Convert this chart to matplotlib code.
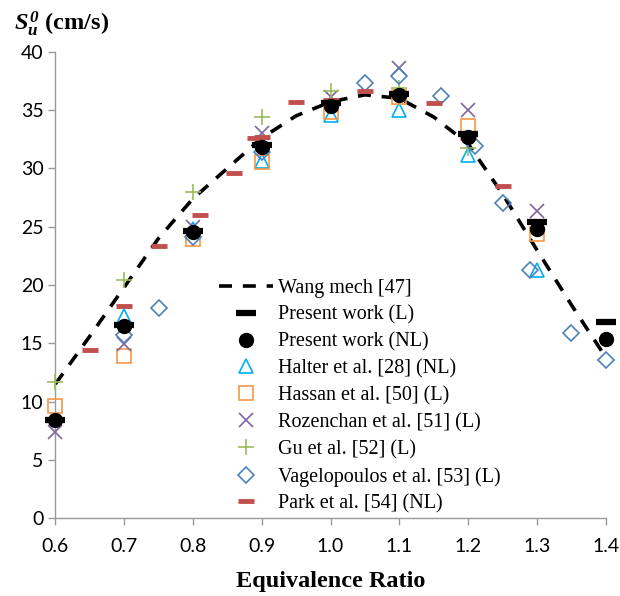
import numpy as np
import matplotlib
matplotlib.use("Agg")
import matplotlib.pyplot as plt

# ---- data -----------------------------------------------------------------
wang_phi = [0.60, 0.65, 0.70, 0.75, 0.80, 0.85, 0.90, 0.95, 1.00, 1.05,
            1.10, 1.15, 1.20, 1.25, 1.30, 1.35, 1.40]
wang_su = [11.5, 15.6, 19.8, 24.0, 27.4, 30.0, 32.6, 34.5, 35.7, 36.3,
           36.0, 34.4, 32.1, 27.8, 23.0, 18.3, 13.8]

pw_phi = [0.6, 0.7, 0.8, 0.9, 1.0, 1.1, 1.2, 1.3, 1.4]
pw_l = [8.4, 16.6, 24.6, 32.0, 35.6, 36.4, 32.9, 25.4, 16.8]
pw_nl = [8.4, 16.5, 24.5, 31.8, 35.3, 36.3, 32.7, 24.8, 15.4]

halter_phi = [0.7, 0.8, 0.9, 1.0, 1.1, 1.2, 1.3]
halter_su = [17.3, 24.8, 30.6, 34.6, 35.0, 31.1, 21.3]

hassan_phi = [0.6, 0.7, 0.8, 0.9, 1.0, 1.1, 1.2, 1.3]
hassan_su = [9.6, 13.9, 23.9, 30.5, 34.8, 36.1, 33.6, 24.4]

rozen_phi = [0.6, 0.7, 0.8, 0.9, 1.0, 1.1, 1.2, 1.3]
rozen_su = [7.4, 14.9, 25.0, 33.0, 36.1, 38.6, 35.0, 26.3]

gu_phi = [0.6, 0.7, 0.8, 0.9, 1.0, 1.1, 1.2]
gu_su = [11.7, 20.4, 28.0, 34.4, 36.6, 36.9, 31.7]

vag_phi = [0.7, 0.75, 0.8, 0.9, 1.05, 1.1, 1.16, 1.21, 1.25, 1.29, 1.35, 1.4]
vag_su = [15.7, 18.0, 24.1, 31.4, 37.3, 37.9, 36.2, 31.9, 27.0, 21.3, 15.9, 13.6]

park_phi = [0.65, 0.7, 0.75, 0.81, 0.86, 0.89, 0.9, 0.95, 1.0, 1.05, 1.15, 1.2, 1.25]
park_su = [14.4, 18.2, 23.3, 26.0, 29.6, 32.6, 32.7, 35.7, 35.9, 36.6, 35.6, 32.6, 28.5]

SERIF = "Liberation Serif"
plt.rcParams.update({
    "font.family": ["Lato", "DejaVu Sans"],
    "mathtext.fontset": "custom",
    "mathtext.rm": SERIF,
    "mathtext.it": SERIF + ":italic",
    "mathtext.bf": SERIF + ":bold",
    "mathtext.bfit": SERIF + ":bold:italic",
})

fig = plt.figure(figsize=(6.2, 5.96), dpi=100)
ax = fig.add_axes([0.0892, 0.1304, 0.8878, 0.7829])

ax.plot(wang_phi, wang_su, color="black", lw=2.6, ls=(0, (3.6, 3.0)),
        label="Wang mech [47]", zorder=2)
ax.plot(pw_phi, pw_l, ls="none", marker="_", ms=15, mew=4.5, color="black",
        label="Present work (L)", zorder=5, clip_on=False)
ax.plot(pw_phi, pw_nl, ls="none", marker="o", ms=10, color="black",
        label="Present work (NL)", zorder=5, clip_on=False)
ax.plot(halter_phi, halter_su, ls="none", marker="^", ms=10, mew=1.2,
        mfc="none", mec="#00B0F0", label="Halter et al. [28] (NL)", zorder=4,
        clip_on=False)
ax.plot(hassan_phi, hassan_su, ls="none", marker="s", ms=10, mew=1.2,
        mfc="none", mec="#F79646", label="Hassan et al. [50] (L)", zorder=4,
        clip_on=False)
ax.plot(rozen_phi, rozen_su, ls="none", marker="x", ms=10, mew=1.2,
        color="#8064A2", label="Rozenchan et al. [51] (L)", zorder=4,
        clip_on=False)
ax.plot(gu_phi, gu_su, ls="none", marker="+", ms=11, mew=1.2,
        color="#9BBB59", label="Gu et al. [52] (L)", zorder=4, clip_on=False)
ax.plot(vag_phi, vag_su, ls="none", marker="D", ms=8, mew=1.2,
        mfc="none", mec="#4F81BD", label="Vagelopoulos et al. [53] (L)",
        zorder=4, clip_on=False)
ax.plot(park_phi, park_su, ls="none", marker="_", ms=12, mew=3.5,
        color="#C0504D", label="Park et al. [54] (NL)", zorder=4,
        clip_on=False)

ax.set_xlim(0.6, 1.4)
ax.set_ylim(0, 40)
ax.set_xticks(np.arange(0.6, 1.41, 0.1))
ax.set_xticklabels([f"{v:.1f}" for v in np.arange(0.6, 1.41, 0.1)])
ax.set_yticks(np.arange(0, 41, 5))
for s in ("top", "right"):
    ax.spines[s].set_visible(False)
for s in ("left", "bottom"):
    ax.spines[s].set_color("#9a9a9a")
    ax.spines[s].set_linewidth(1.0)
ax.tick_params(axis="both", direction="out", length=5, width=1.0,
               color="#9a9a9a", labelsize=14, labelcolor="black")
ax.tick_params(axis="x", pad=9)

ax.set_xlabel("Equivalence Ratio", family=SERIF, fontweight="bold",
              fontsize=17.5, labelpad=12)
fig.text(0.022, 0.960, r"$\mathbfit{S_u^{\,0}}$ (cm/s)", family=SERIF,
         fontweight="bold", fontsize=17.5, ha="left", va="center")

leg = ax.legend(loc="upper left", bbox_to_anchor=(0.268, 0.548), frameon=False,
                prop={"family": SERIF, "size": 14.5}, handlelength=2.7,
                handletextpad=0.22, labelspacing=0.38, borderpad=0.3)

fig.savefig("out.png", dpi=100, facecolor="white")
